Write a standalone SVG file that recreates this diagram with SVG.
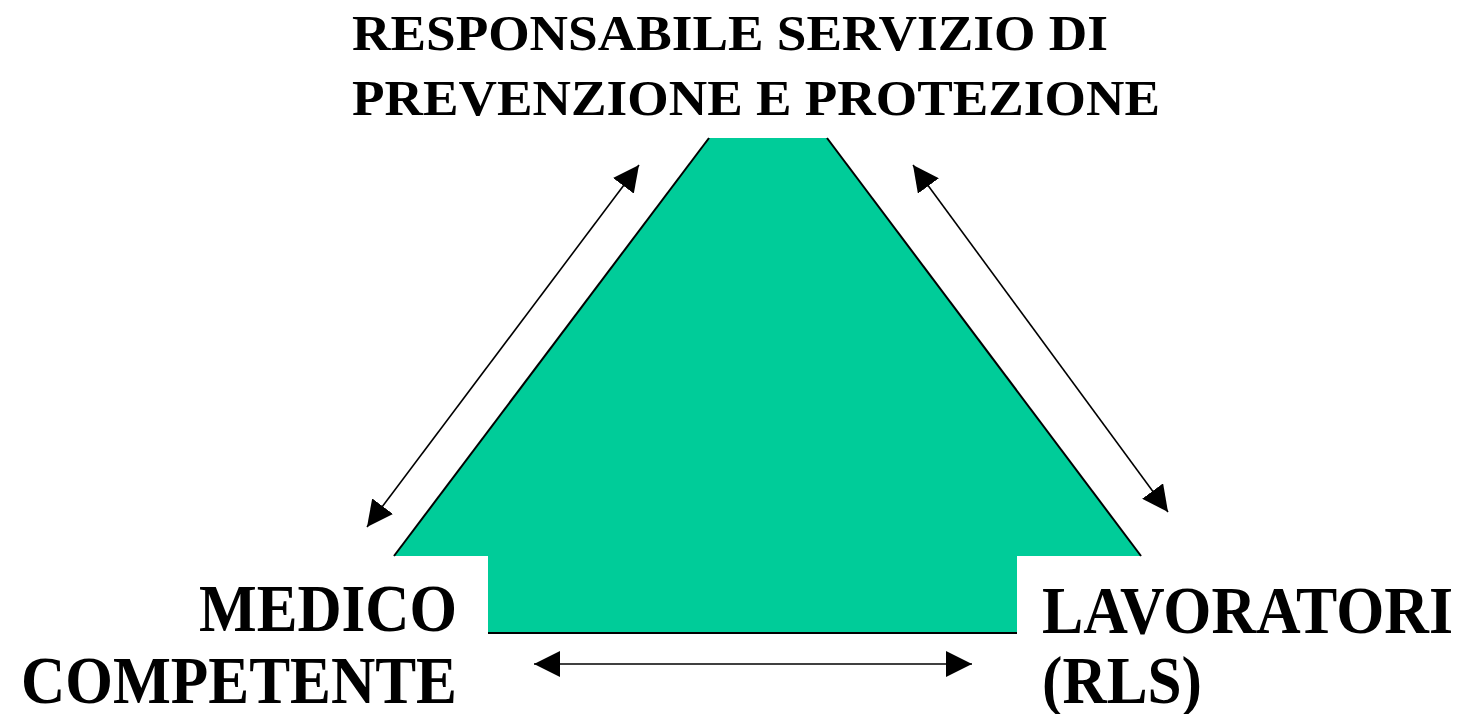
<svg xmlns="http://www.w3.org/2000/svg" width="1468" height="714" viewBox="0 0 1468 714">
<style>
.lbl{font-family:"Liberation Serif","Times New Roman",serif;font-weight:bold;fill:#000}
.top{font-size:51px}
.big{font-size:67px}
.edge{stroke:#000;stroke-width:2;fill:none}
.conn{stroke:#000;stroke-width:1.6;fill:none}
</style>
<defs>
<marker id="ahb" viewBox="0 0 10 10" refX="10" refY="5" markerWidth="26" markerHeight="26" markerUnits="userSpaceOnUse" orient="auto-start-reverse">
<path d="M0,0 L10,5 L0,10 Z" fill="#000"/>
</marker>
</defs>
<rect width="1468" height="714" fill="#fff"/>
<g id="shape">
<polygon points="709,138 827,138 1141,556 1017,556 1017,633 488,633 488,556 394,556" fill="#00CC99"/>
<line class="edge" x1="709" y1="138" x2="394" y2="556"/>
<line class="edge" x1="827" y1="138" x2="1141" y2="556"/>
<line class="edge" x1="488" y1="633" x2="1017" y2="633"/>
</g>
<g id="connectors">
<line class="conn" x1="367" y1="527" x2="639" y2="165" marker-start="url(#ahb)" marker-end="url(#ahb)"/>
<line class="conn" x1="913" y1="165" x2="1168" y2="512" marker-start="url(#ahb)" marker-end="url(#ahb)"/>
<line class="conn" x1="534" y1="664" x2="972" y2="664" stroke-width="2" marker-start="url(#ahb)" marker-end="url(#ahb)"/>
</g>
<g id="rspp">
<text class="lbl top" x="352" y="50" textLength="756" lengthAdjust="spacingAndGlyphs">RESPONSABILE SERVIZIO DI</text>
<text class="lbl top" x="352" y="115" textLength="808" lengthAdjust="spacingAndGlyphs">PREVENZIONE E PROTEZIONE</text>
</g>
<g id="medico">
<text class="lbl big" x="199" y="631" textLength="258" lengthAdjust="spacingAndGlyphs">MEDICO</text>
<text class="lbl big" x="21" y="703" textLength="436" lengthAdjust="spacingAndGlyphs">COMPETENTE</text>
</g>
<g id="lavoratori">
<text class="lbl big" x="1042" y="633" textLength="411" lengthAdjust="spacingAndGlyphs">LAVORATORI</text>
<text class="lbl big" x="1042" y="703" textLength="160" lengthAdjust="spacingAndGlyphs">(RLS)</text>
</g>
</svg>
